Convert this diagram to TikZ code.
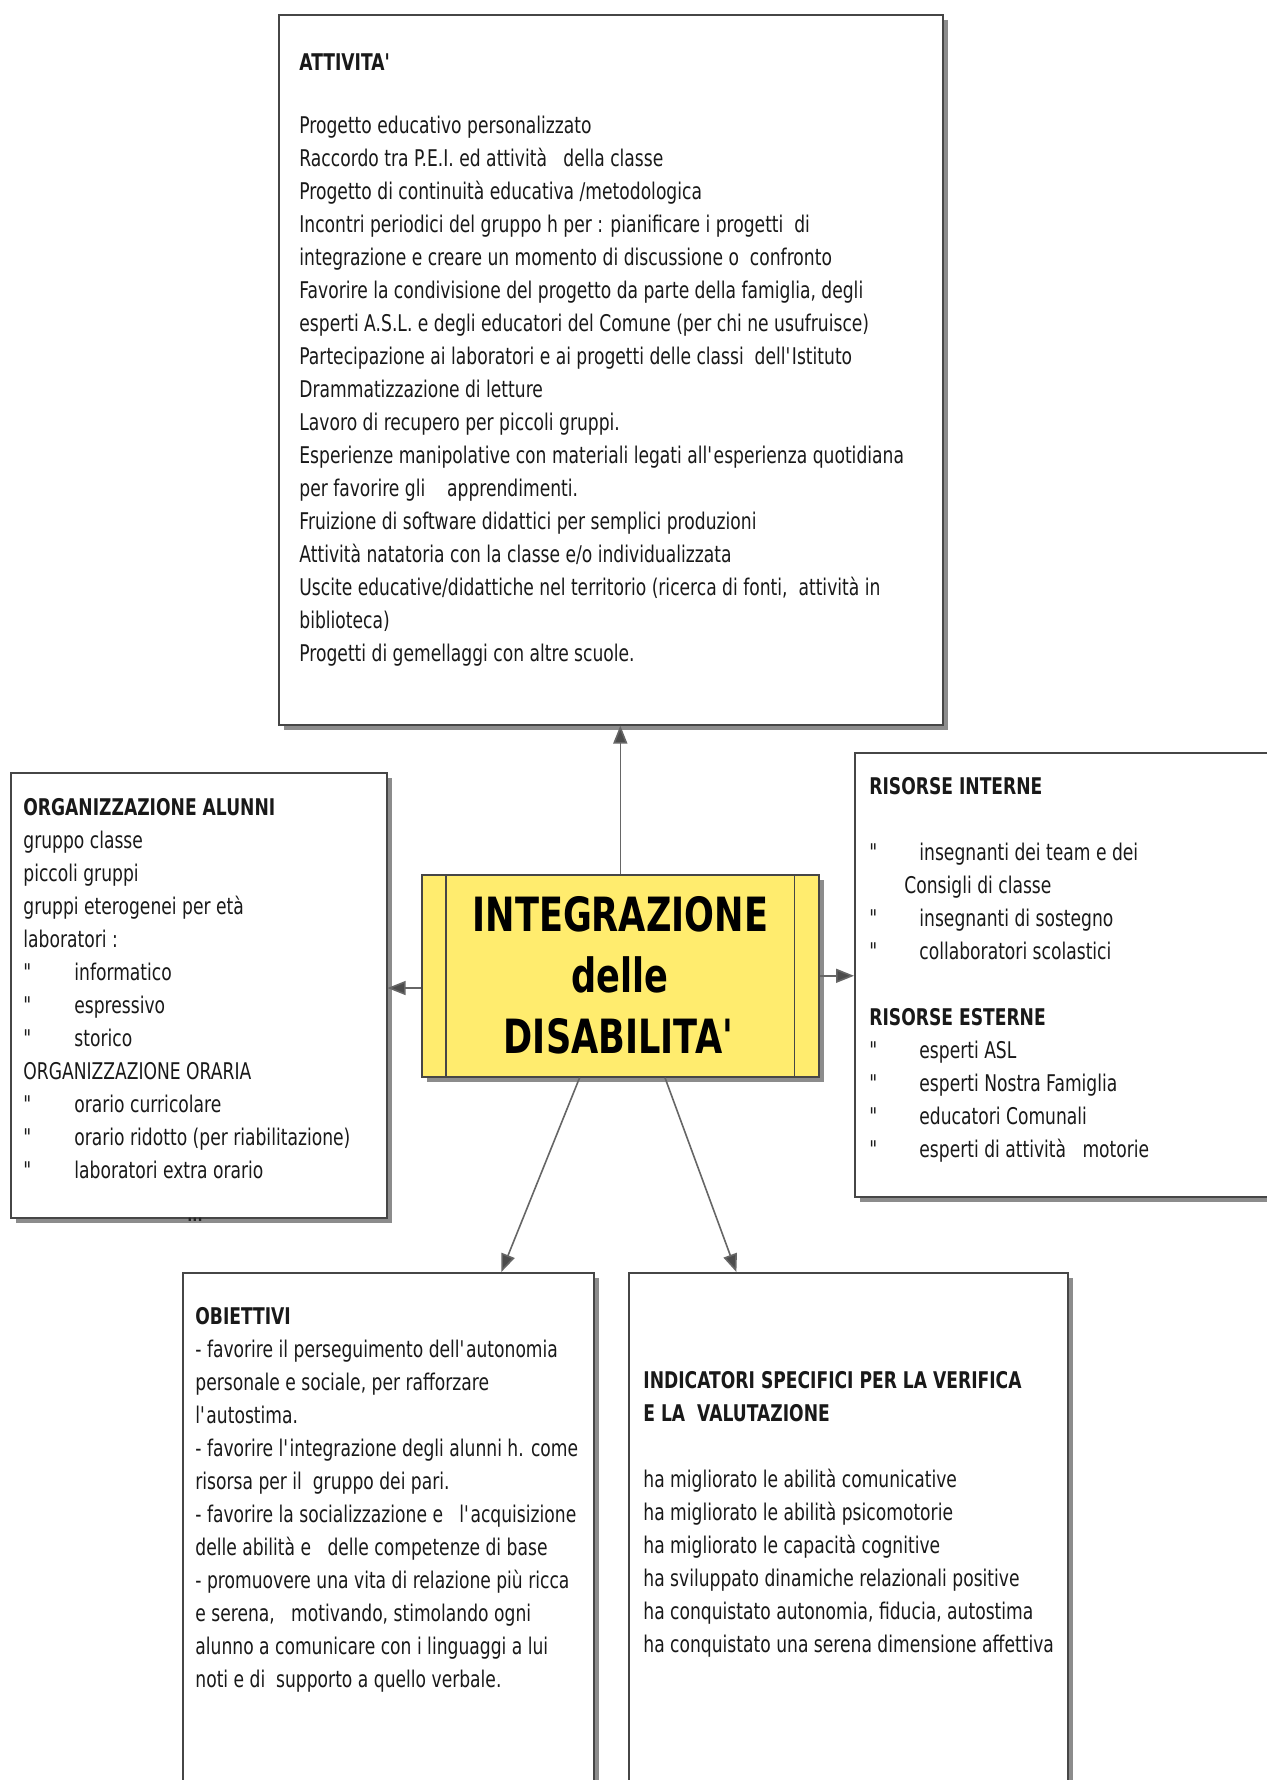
\documentclass[tikz,border=0pt]{standalone}
\usepackage{fontspec}
\setmainfont[FakeStretch=0.745]{DejaVu Sans}
\usetikzlibrary{arrows.meta,calc,shadows}
\definecolor{boxyellow}{RGB}{255,236,110}
\definecolor{edgegray}{RGB}{70,70,70}
\newcommand\qbl{\makebox[25.5pt][l]{\textquotedbl}}
\newcommand\qbr{\makebox[25pt][l]{\textquotedbl}}
\newcommand\ap{\textquotesingle}
\begin{document}
\begin{tikzpicture}[x=0.5pt,y=-0.5pt,
  box/.style={draw=edgegray,line width=0.8pt,fill=white,rectangle,inner sep=0pt,anchor=north west,
     general shadow={fill=black!45,shadow xshift=2.5pt,shadow yshift=-2.5pt}},
  txt/.style={anchor=north west,inner sep=0pt,align=left,text=black!90,font=\fontsize{11.5}{16.5}\selectfont},
  conn/.style={draw=black!60,line width=0.8pt,-{Triangle[length=9pt,width=7pt,fill=black!70]}},
]
\useasboundingbox (0,0) rectangle (1266,1780);
\fill[white] (0,0) rectangle (1266,1780);

% top box
\node[box,minimum width=332pt,minimum height=355pt] (A) at (278,14) {};
\node[txt] (At) at (299,53) {\textbf{ATTIVITA\ap}\\[15pt]
Progetto educativo personalizzato\\
Raccordo tra P.E.I. ed attività\ \ \ della classe\\
Progetto di continuità educativa /metodologica\\
Incontri periodici del gruppo h per : pianificare i progetti\ \ di\\
integrazione e creare un momento di discussione o\ \ confronto\\
Favorire la condivisione del progetto da parte della famiglia, degli\\
esperti A.S.L. e degli educatori del Comune (per chi ne usufruisce)\\
Partecipazione ai laboratori e ai progetti delle classi\ \ dell\ap Istituto\\
Drammatizzazione di letture\\
Lavoro di recupero per piccoli gruppi.\\
Esperienze manipolative con materiali legati all\ap esperienza quotidiana\\
per favorire gli\ \ \ \ apprendimenti.\\
Fruizione di software didattici per semplici produzioni\\
Attività natatoria con la classe e/o individualizzata\\
Uscite educative/didattiche nel territorio (ricerca di fonti,\ \ attività in\\
biblioteca)\\
Progetti di gemellaggi con altre scuole.};

% left box
\node[box,minimum width=188pt,minimum height=222.5pt] (B) at (10,772) {};
\node[txt] (Bt) at (23,798) {\textbf{ORGANIZZAZIONE ALUNNI}\\
gruppo classe\\
piccoli gruppi\\
gruppi eterogenei per età\\
laboratori :\\
\qbl informatico\\
\qbl espressivo\\
\qbl storico\\
ORGANIZZAZIONE ORARIA\\
\qbl orario curricolare\\
\qbl orario ridotto (per riabilitazione)\\
\qbl laboratori extra orario};
\node[inner sep=0pt,font=\bfseries\fontsize{9}{10}\selectfont,text=black!85] (dots) at (195,1220) {...};

% right box
\node[box,minimum width=218pt,minimum height=222pt] (C) at (854,752) {};
\node[txt] (Ct) at (869,777) {\textbf{RISORSE INTERNE}\\[16.5pt]
\qbr insegnanti dei team e dei\\
\hspace*{17.5pt}Consigli di classe\\
\qbr insegnanti di sostegno\\
\qbr collaboratori scolastici\\[16.5pt]
\textbf{RISORSE ESTERNE}\\
\qbr esperti ASL\\
\qbr esperti Nostra Famiglia\\
\qbr educatori Comunali\\
\qbr esperti di attività\ \ \ motorie};

% bottom left box
\node[box,minimum width=205.5pt,minimum height=264pt] (D) at (182,1272) {};
\node[txt] (Dt) at (195,1307) {\textbf{OBIETTIVI}\\
- favorire il perseguimento dell\ap autonomia\\
personale e sociale, per rafforzare\\
l\ap autostima.\\
- favorire l\ap integrazione degli alunni h. come\\
risorsa per il\ \ gruppo dei pari.\\
- favorire la socializzazione e\ \ \ l\ap acquisizione\\
delle abilità e\ \ \ delle competenze di base\\
- promuovere una vita di relazione più ricca\\
e serena,\ \ \ motivando, stimolando ogni\\
alunno a comunicare con i linguaggi a lui\\
noti e di\ \ supporto a quello verbale.};

% bottom right box
\node[box,minimum width=219.5pt,minimum height=264pt] (E) at (628,1272) {};
\node[txt] (Et) at (643,1371) {\textbf{INDICATORI SPECIFICI PER LA VERIFICA}\\
\textbf{E LA\ \ VALUTAZIONE}\\[16.5pt]
ha migliorato le abilità comunicative\\
ha migliorato le abilità psicomotorie\\
ha migliorato le capacità cognitive\\
ha sviluppato dinamiche relazionali positive\\
ha conquistato autonomia, fiducia, autostima\\
ha conquistato una serena dimensione affettiva};

% centre
\node[box,fill=boxyellow,minimum width=198.5pt,minimum height=101pt,align=center,
      font=\bfseries\fontsize{23.6}{30.5}\selectfont] (F) at (421,874)
      {INTEGRAZIONE\\delle\\DISABILITA\ap};
\draw[edgegray,line width=0.8pt] ($(F.north west)+(25,0)$) -- ($(F.south west)+(25,0)$);
\draw[edgegray,line width=0.8pt] ($(F.north east)+(-25,0)$) -- ($(F.south east)+(-25,0)$);

% connectors
\draw[conn] (F.north) -- (F.north |- A.south);
\coordinate (Fl) at ($(F.north west)!0.56!(F.south west)$);
\draw[conn] (Fl) -- (Fl -| B.east);
\draw[conn] (F.east) -- (F.east -| C.west);
\draw[conn] ($(F.south west)!0.398!(F.south east)$) -- ($(D.north west)!0.774!(D.north east)$);
\draw[conn] ($(F.south west)!0.612!(F.south east)$) -- ($(E.north west)!0.246!(E.north east)$);
\end{tikzpicture}
\end{document}
